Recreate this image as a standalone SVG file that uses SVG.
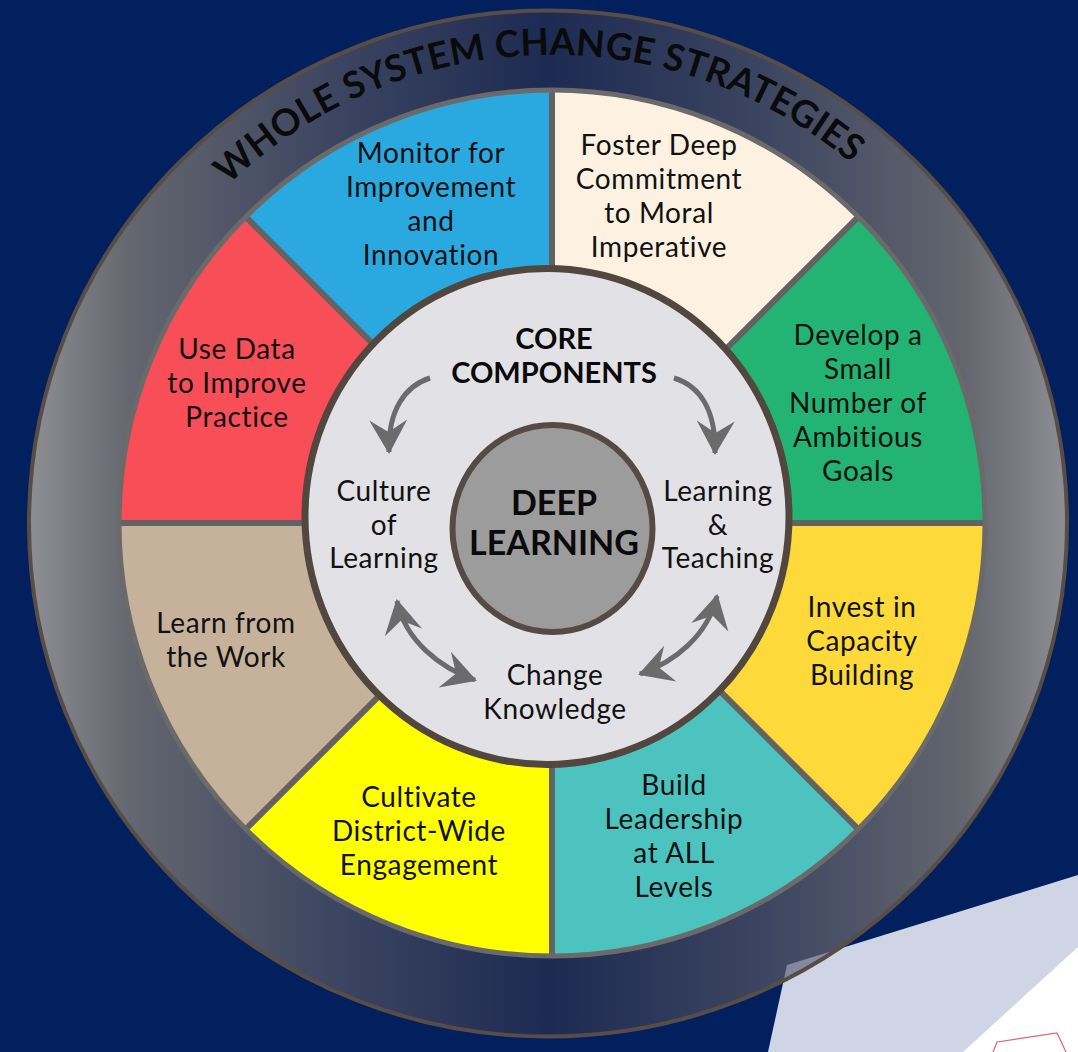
<svg xmlns="http://www.w3.org/2000/svg" width="1078" height="1052" viewBox="0 0 1078 1052">
<defs>
<linearGradient id="ringGrad" gradientUnits="userSpaceOnUse" x1="28" y1="0" x2="1068" y2="0">
<stop offset="0" stop-color="#8e8f93"/>
<stop offset="0.1" stop-color="#63666e"/>
<stop offset="0.3" stop-color="#3b4460"/>
<stop offset="0.5" stop-color="#1d2a52"/>
<stop offset="0.7" stop-color="#3b4460"/>
<stop offset="0.9" stop-color="#63666e"/>
<stop offset="1" stop-color="#8e8f93"/>
</linearGradient>
<clipPath id="ringClip"><ellipse cx="548" cy="523.5" rx="519" ry="513"/></clipPath>
<path id="arcText" d="M 84,523 A 468,468 0 0 1 1020,523"/>
<marker id="ah" viewBox="-34 -20 38 40" markerWidth="38" markerHeight="40" refX="0" refY="0" orient="auto-start-reverse" markerUnits="userSpaceOnUse">
<path d="M2,0 L-32,-19 L-20,0 L-32,19 Z" fill="#6b6b6b"/>
</marker>
<style>
.seg{stroke:none}
.lbl{font-family:Lato,"Noto Sans","Liberation Sans",sans-serif;font-size:28px;letter-spacing:0.6px;fill:#111;text-anchor:middle}
.bold{font-family:Lato,"Noto Sans","Liberation Sans",sans-serif;font-weight:700;fill:#0a0a0a;text-anchor:middle}
.arr{fill:none;stroke:#6b6b6b;stroke-width:5}
.div{stroke:#626262;stroke-width:6}
</style>
</defs>
<rect x="0" y="0" width="1078" height="1052" fill="#01205d"/>
<g id="paper">
<polygon points="787,965 1078,875 1078,1052 768,1052" fill="#d0d5e6"/>
<polygon points="963,1052 1078,947 1078,1052" fill="#ffffff"/>
<polyline points="993,1052 997,1042 1057,1033 1066,1052" fill="none" stroke="#e06070" stroke-width="1.2"/>
</g>
<g id="outer-ring">
<ellipse cx="548" cy="523.5" rx="519" ry="513" fill="url(#ringGrad)"/>
<polygon points="787,965 1078,875 1078,1052 768,1052" fill="#d0d5e6" opacity="0.45" clip-path="url(#ringClip)"/>
<ellipse cx="548" cy="523.5" rx="519" ry="513" fill="none" stroke="#584d46" stroke-width="4"/>
<text class="bold" font-size="37" font-weight="900" letter-spacing="0.3"><textPath href="#arcText" startOffset="48.9%">WHOLE SYSTEM CHANGE STRATEGIES</textPath></text>
</g>
<g id="segments">
<g id="seg-green"><path class="seg" d="M552,523 L858.2,216.8 A433,433 0 0 1 985,523 Z" fill="#23b473"/></g>
<g id="seg-gold"><path class="seg" d="M552,523 L985,523 A433,433 0 0 1 858.2,829.2 Z" fill="#fdda3a"/></g>
<g id="seg-teal"><path class="seg" d="M552,523 L858.2,829.2 A433,433 0 0 1 552,956 Z" fill="#4dc3bf"/></g>
<g id="seg-yellow"><path class="seg" d="M552,523 L552,956 A433,433 0 0 1 245.8,829.2 Z" fill="#ffff00"/></g>
<g id="seg-tan"><path class="seg" d="M552,523 L245.8,829.2 A433,433 0 0 1 119,523 Z" fill="#c6b29b"/></g>
<g id="seg-red"><path class="seg" d="M552,523 L119,523 A433,433 0 0 1 245.8,216.8 Z" fill="#f74e58"/></g>
<g id="seg-blue"><path class="seg" d="M552,523 L245.8,216.8 A433,433 0 0 1 552,90 Z" fill="#2aa9e0"/></g>
<g id="seg-cream"><path class="seg" d="M552,523 L552,90 A433,433 0 0 1 858.2,216.8 Z" fill="#fdf2e2"/></g>
<g id="dividers">
<line class="div" x1="552" y1="523" x2="552" y2="90"/>
<line class="div" x1="552" y1="523" x2="552" y2="956"/>
<line class="div" x1="552" y1="523" x2="119" y2="523"/>
<line class="div" x1="552" y1="523" x2="985" y2="523"/>
<line class="div" x1="552" y1="523" x2="245.8" y2="216.8"/>
<line class="div" x1="552" y1="523" x2="858.2" y2="216.8"/>
<line class="div" x1="552" y1="523" x2="245.8" y2="829.2"/>
<line class="div" x1="552" y1="523" x2="858.2" y2="829.2"/>
</g>
<circle cx="552" cy="523" r="433" fill="none" stroke="#6a6a6a" stroke-width="5"/>
</g>
<g id="labels">
<text class="lbl"><tspan x="431" y="163">Monitor for</tspan><tspan x="431" y="197">Improvement</tspan><tspan x="431" y="231">and</tspan><tspan x="431" y="265">Innovation</tspan></text>
<text class="lbl"><tspan x="659" y="155">Foster Deep</tspan><tspan x="659" y="189">Commitment</tspan><tspan x="659" y="223">to Moral</tspan><tspan x="659" y="257">Imperative</tspan></text>
<text class="lbl"><tspan x="858" y="345">Develop a</tspan><tspan x="858" y="379">Small</tspan><tspan x="858" y="413">Number of</tspan><tspan x="858" y="447">Ambitious</tspan><tspan x="858" y="481">Goals</tspan></text>
<text class="lbl"><tspan x="862" y="617">Invest in</tspan><tspan x="862" y="651">Capacity</tspan><tspan x="862" y="685">Building</tspan></text>
<text class="lbl"><tspan x="674" y="795">Build</tspan><tspan x="674" y="829">Leadership</tspan><tspan x="674" y="863">at ALL</tspan><tspan x="674" y="897">Levels</tspan></text>
<text class="lbl"><tspan x="419" y="807">Cultivate</tspan><tspan x="419" y="841">District-Wide</tspan><tspan x="419" y="875">Engagement</tspan></text>
<text class="lbl"><tspan x="226" y="633">Learn from</tspan><tspan x="226" y="667">the Work</tspan></text>
<text class="lbl"><tspan x="237" y="359">Use Data</tspan><tspan x="237" y="393">to Improve</tspan><tspan x="237" y="427">Practice</tspan></text>
</g>
<g id="core">
<ellipse cx="547" cy="516.5" rx="242" ry="248" fill="#e2e2e6" stroke="#51473f" stroke-width="7"/>
<text class="bold" font-size="29"><tspan x="554" y="349">CORE</tspan><tspan x="554" y="383">COMPONENTS</tspan></text>
</g>
<g id="culture"><text class="lbl"><tspan x="384" y="501">Culture</tspan><tspan x="384" y="535">of</tspan><tspan x="384" y="568">Learning</tspan></text></g>
<g id="learning-teaching"><text class="lbl"><tspan x="718" y="501">Learning</tspan><tspan x="718" y="535">&amp;</tspan><tspan x="718" y="568">Teaching</tspan></text></g>
<g id="change"><text class="lbl"><tspan x="555" y="685">Change</tspan><tspan x="555" y="719">Knowledge</tspan></text></g>
<g id="deep">
<ellipse cx="552.5" cy="528.5" rx="100" ry="103.5" fill="#9c9c9c" stroke="#564b44" stroke-width="6"/>
<text class="bold" font-size="34"><tspan x="554" y="515">DEEP</tspan><tspan x="554" y="555">LEARNING</tspan></text>
</g>
<g id="connectors">
<path class="arr" d="M430,378 C405,386 388,410 389,452" marker-end="url(#ah)"/>
<path class="arr" d="M674,378 C700,386 716,410 715,453" marker-end="url(#ah)"/>
<path class="arr" d="M397,601 C405,640 440,668 475,680" marker-start="url(#ah)" marker-end="url(#ah)"/>
<path class="arr" d="M717,596 C708,635 675,662 640,674" marker-start="url(#ah)" marker-end="url(#ah)"/>
</g>
</svg>
